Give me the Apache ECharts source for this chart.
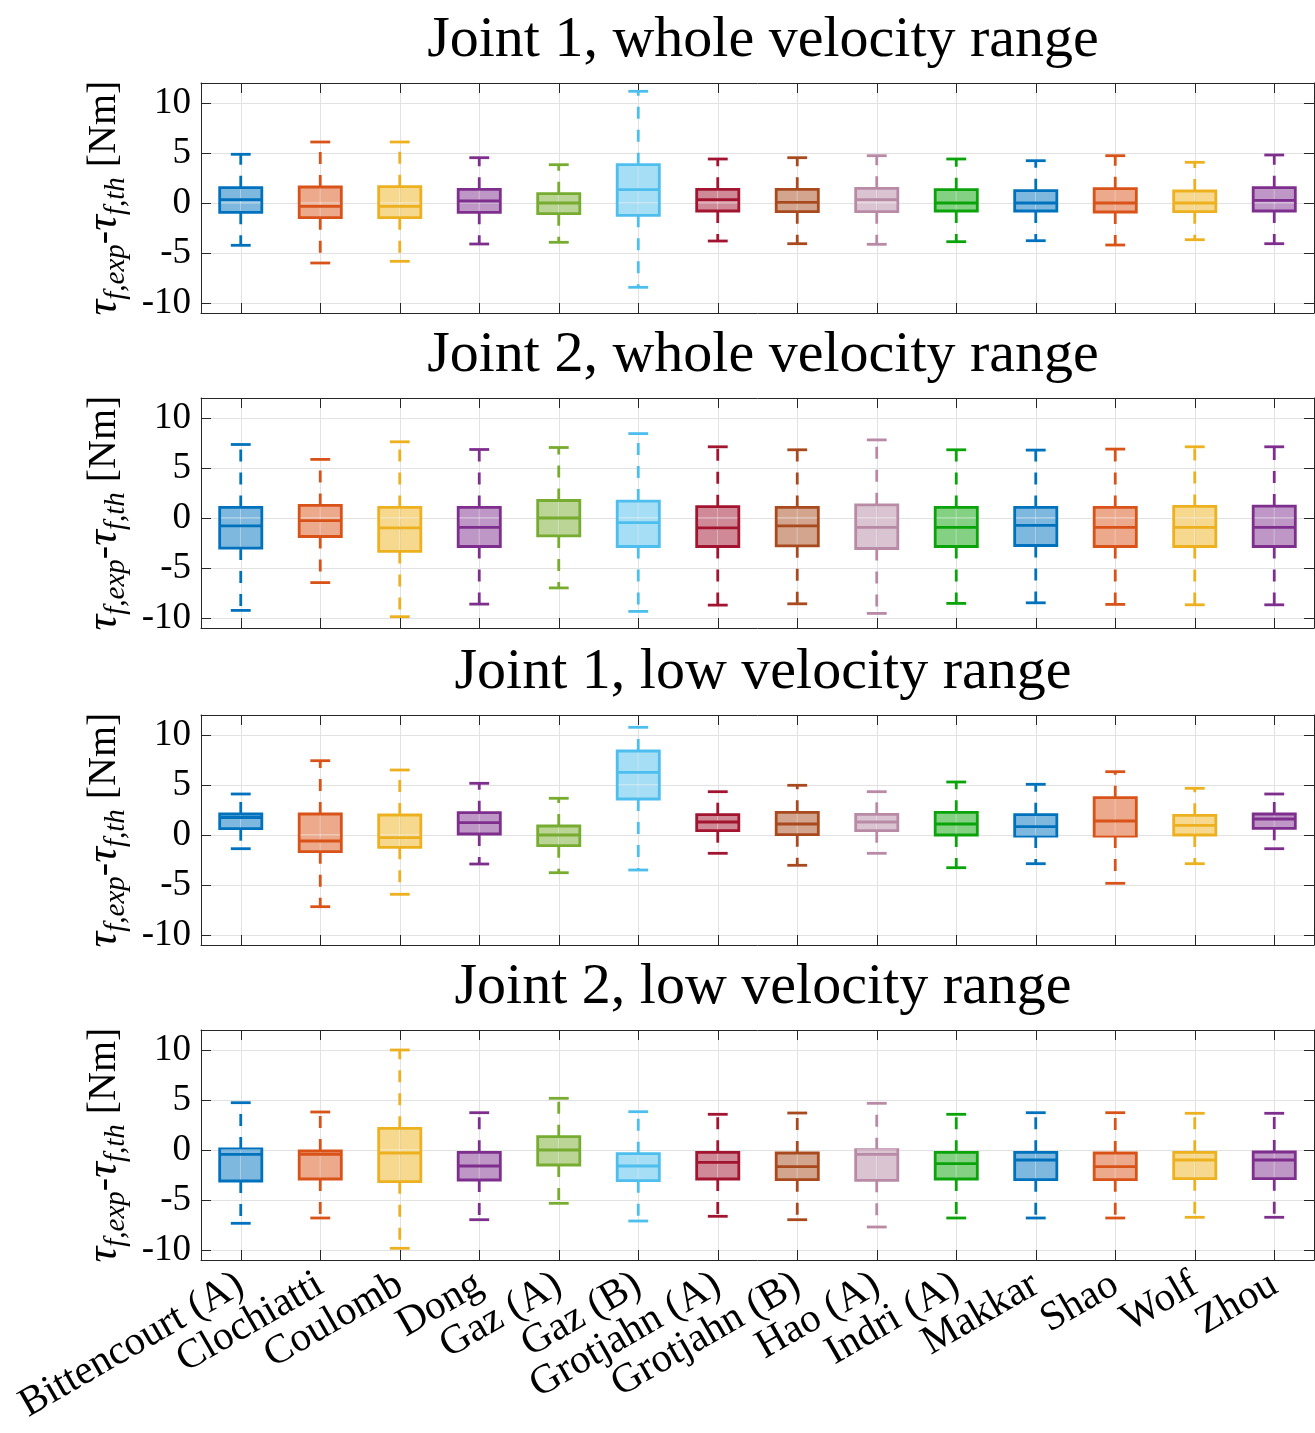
<!DOCTYPE html>
<html>
<head>
<meta charset="utf-8">
<script src="https://cdn.jsdelivr.net/npm/echarts@6/dist/echarts.min.js"></script>
<style>
html,body{margin:0;padding:0;background:#fff;}
#chart{width:1315px;height:1433px;}
</style>
</head>
<body>
<div id="chart"></div>
<script>
// ---- data ----
const categories = ['Bittencourt (A)','Clochiatti','Coulomb','Dong','Gaz (A)','Gaz (B)','Grotjahn (A)','Grotjahn (B)','Hao (A)','Indri (A)','Makkar','Shao','Wolf','Zhou'];
const colors = ['#0072BD','#D95319','#EDB120','#7E2F8E','#77AC30','#4DBEEE','#A2142F','#A84A1E','#B88AA6','#0AA30A','#0072BD','#D95319','#EDB120','#7E2F8E'];
const titles = ['Joint 1, whole velocity range','Joint 2, whole velocity range','Joint 1, low velocity range','Joint 2, low velocity range'];
const yTicks = [-10,-5,0,5,10];
// [min, Q1, median, Q3, max]
const joint1Whole = [
  [-4.23,-0.93,0.33,1.53,4.87],
  [-6.0,-1.47,-0.33,1.6,6.1],
  [-5.83,-1.47,-0.33,1.63,6.1],
  [-4.1,-0.93,0.2,1.37,4.53],
  [-3.93,-1.07,0.0,0.93,3.83],
  [-8.43,-1.23,1.33,3.83,11.17],
  [-3.8,-0.8,0.33,1.37,4.4],
  [-4.07,-0.87,0.07,1.37,4.53],
  [-4.13,-0.87,0.33,1.47,4.73],
  [-3.87,-0.8,0.0,1.33,4.4],
  [-3.77,-0.8,0.0,1.23,4.23],
  [-4.2,-0.9,0.0,1.43,4.73],
  [-3.67,-0.87,0.0,1.2,4.07],
  [-4.07,-0.8,0.27,1.53,4.8]
];
const joint2Whole = [
  [-9.24,-3.01,-0.79,1.06,7.35],
  [-6.46,-1.85,-0.26,1.26,5.86],
  [-9.87,-3.34,-0.99,1.06,7.62],
  [-8.61,-2.85,-0.93,1.06,6.85],
  [-6.99,-1.79,0.0,1.75,7.05],
  [-9.34,-2.85,-0.46,1.69,8.44],
  [-8.71,-2.85,-0.99,1.13,7.12],
  [-8.58,-2.78,-0.79,1.06,6.82],
  [-9.54,-3.05,-0.93,1.32,7.81],
  [-8.54,-2.85,-0.93,1.06,6.82],
  [-8.48,-2.75,-0.73,1.06,6.79],
  [-8.64,-2.85,-0.93,1.06,6.89],
  [-8.68,-2.85,-0.93,1.16,7.12],
  [-8.68,-2.85,-0.93,1.19,7.12]
];
const joint1Low = [
  [-1.37,0.63,1.75,2.1,4.1],
  [-7.17,-1.67,-0.6,2.1,7.43],
  [-5.93,-1.23,-0.27,2.0,6.5],
  [-2.9,0.1,1.23,2.23,5.17],
  [-3.77,-1.07,0.0,0.9,3.67],
  [-3.5,3.6,6.27,8.4,10.77],
  [-1.83,0.43,1.3,2.03,4.33],
  [-3.03,0.03,1.1,2.27,4.97],
  [-1.83,0.43,1.3,2.07,4.33],
  [-3.27,0.0,1.1,2.27,5.3],
  [-2.87,-0.1,0.83,2.03,5.07],
  [-4.83,-0.1,1.4,3.73,6.33],
  [-2.87,0.0,0.97,1.97,4.67],
  [-1.37,0.67,1.6,2.1,4.1]
];
const joint2Low = [
  [-7.33,-3.1,-0.43,0.1,4.73],
  [-6.8,-2.9,-0.43,-0.1,3.8],
  [-9.83,-3.17,-0.3,2.17,10.0],
  [-6.97,-3.0,-1.6,-0.23,3.73],
  [-5.33,-1.5,0.0,1.33,5.17],
  [-7.1,-3.07,-1.6,-0.37,3.83],
  [-6.63,-2.9,-1.23,-0.23,3.57],
  [-6.97,-2.97,-1.67,-0.3,3.7],
  [-7.7,-3.03,-0.43,0.03,4.67],
  [-6.8,-2.9,-1.37,-0.23,3.57],
  [-6.8,-2.97,-1.0,-0.23,3.73],
  [-6.8,-2.97,-1.67,-0.3,3.73],
  [-6.73,-2.87,-1.0,-0.23,3.67],
  [-6.73,-2.87,-1.0,-0.2,3.67]
];
const panels = [joint1Whole, joint2Whole, joint1Low, joint2Low];

// ---- layout / style ----
const gridTops = [83, 398, 715, 1030];
const gridH = 230;
const gridLeft = 201, gridRight = 1;
const axisColor = '#262626';
const gridColor = '#e2e2e2';
const serif = 'Liberation Serif';

function rgba(hex, a){
  const n = parseInt(hex.slice(1),16);
  return 'rgba(' + ((n>>16)&255) + ',' + ((n>>8)&255) + ',' + (n&255) + ',' + a + ')';
}

function renderItem(params, api){
  const i = api.value(0);
  const vMin = api.value(1), q1 = api.value(2), med = api.value(3), q3 = api.value(4), vMax = api.value(5);
  const c = colors[i];
  const band = api.size([1,0])[0];
  const hb = band*0.265, hc = band*0.125;
  const pMin = api.coord([i, vMin]), pQ1 = api.coord([i, q1]), pMed = api.coord([i, med]);
  const pQ3 = api.coord([i, q3]), pMax = api.coord([i, vMax]);
  const x = pMed[0];
  const lw = 2.8;
  const children = [];
  children.push({type:'line', shape:{x1:x,y1:pQ3[1],x2:x,y2:pMax[1]}, style:{stroke:c,lineWidth:lw,lineDash:[12,11]}});
  children.push({type:'line', shape:{x1:x,y1:pQ1[1],x2:x,y2:pMin[1]}, style:{stroke:c,lineWidth:lw,lineDash:[12,11]}});
  children.push({type:'line', shape:{x1:x-hc,y1:pMax[1],x2:x+hc,y2:pMax[1]}, style:{stroke:c,lineWidth:lw}});
  children.push({type:'line', shape:{x1:x-hc,y1:pMin[1],x2:x+hc,y2:pMin[1]}, style:{stroke:c,lineWidth:lw}});
  children.push({type:'rect', shape:{x:x-hb,y:pQ3[1],width:2*hb,height:pQ1[1]-pQ3[1]}, style:{fill:rgba(c,0.5),stroke:c,lineWidth:lw}});
  // grid lines showing through the box
  children.push({type:'line', shape:{x1:x,y1:pQ3[1]+lw/2,x2:x,y2:pQ1[1]-lw/2}, style:{stroke:'rgba(255,255,255,0.45)',lineWidth:1}});
  yTicks.forEach(t => {
    if (t > q1 && t < q3) {
      const py = api.coord([i, t])[1];
      children.push({type:'line', shape:{x1:x-hb+lw/2,y1:py,x2:x+hb-lw/2,y2:py}, style:{stroke:'rgba(255,255,255,0.45)',lineWidth:1.5}});
    }
  });
  children.push({type:'line', shape:{x1:x-hb,y1:pMed[1],x2:x+hb,y2:pMed[1]}, style:{stroke:c,lineWidth:lw}});
  return {type:'group', children};
}

const grid = [], xAxis = [], yAxis = [], series = [], title = [];
const nameRich = {
  t:{fontFamily:serif,fontStyle:'italic',fontSize:44,color:'#000',lineHeight:52,verticalAlign:'middle'},
  s:{fontFamily:serif,fontStyle:'italic',fontSize:29,color:'#000',lineHeight:27,verticalAlign:'bottom'},
  n:{fontFamily:serif,fontSize:40,color:'#000',lineHeight:52,verticalAlign:'middle'}
};
panels.forEach((data, k) => {
  grid.push({left:gridLeft, right:gridRight, top:gridTops[k], height:gridH, containLabel:false});
  title.push({text:titles[k], left:758, textAlign:'center', top:gridTops[k]-76,
    textStyle:{fontFamily:serif,fontSize:58,fontWeight:'normal',color:'#000'}});
  const last = k === panels.length-1;
  xAxis.push({type:'category', data:categories, gridIndex:k, position:'bottom', boundaryGap:true,
    axisLine:{show:true,onZero:false,lineStyle:{color:axisColor,width:1}},
    axisTick:{show:true,inside:true,alignWithLabel:true,interval:0,length:10,lineStyle:{color:axisColor}},
    axisLabel:{show:last,interval:0,rotate:30,margin:22,fontFamily:serif,fontSize:41,color:'#000'},
    splitLine:{show:true,alignWithLabel:true,interval:0,lineStyle:{color:gridColor,width:1}}
  });
  xAxis.push({type:'category', data:categories, gridIndex:k, position:'top', boundaryGap:true,
    axisLine:{show:true,onZero:false,lineStyle:{color:axisColor,width:1}},
    axisTick:{show:true,inside:true,alignWithLabel:true,interval:0,length:10,lineStyle:{color:axisColor}},
    axisLabel:{show:false}, splitLine:{show:false}
  });
  yAxis.push({type:'value', gridIndex:k, position:'left', min:-11, max:12,
    axisLine:{show:true,onZero:false,lineStyle:{color:axisColor,width:1}},
    axisTick:{show:true,inside:true,length:10,customValues:yTicks,lineStyle:{color:axisColor}},
    axisLabel:{show:true,customValues:yTicks,margin:10,fontFamily:serif,fontSize:37,color:'#000'},
    splitLine:{show:true,lineStyle:{color:gridColor,width:1}},
    name:'{t|τ}{s|f,exp}{n|-}{t|τ}{s|f,th}{n| [Nm]}', nameLocation:'middle', nameGap:55, nameRotate:90,
    nameTextStyle:{rich:nameRich}
  });
  yAxis.push({type:'value', gridIndex:k, position:'right', min:-11, max:12,
    axisLine:{show:true,onZero:false,lineStyle:{color:axisColor,width:1}},
    axisTick:{show:true,inside:true,length:10,customValues:yTicks,lineStyle:{color:axisColor}},
    axisLabel:{show:false}, splitLine:{show:false}
  });
  series.push({type:'custom', xAxisIndex:2*k, yAxisIndex:2*k, renderItem,
    encode:{x:0, y:[1,2,3,4,5]},
    data:data.map((d,i)=>[i].concat(d)), z:3, silent:true});
});

const chart = echarts.init(document.getElementById('chart'), null, {renderer:'canvas'});
chart.setOption({animation:false, backgroundColor:'#fff', title, grid, xAxis, yAxis, series});
</script>
</body>
</html>
